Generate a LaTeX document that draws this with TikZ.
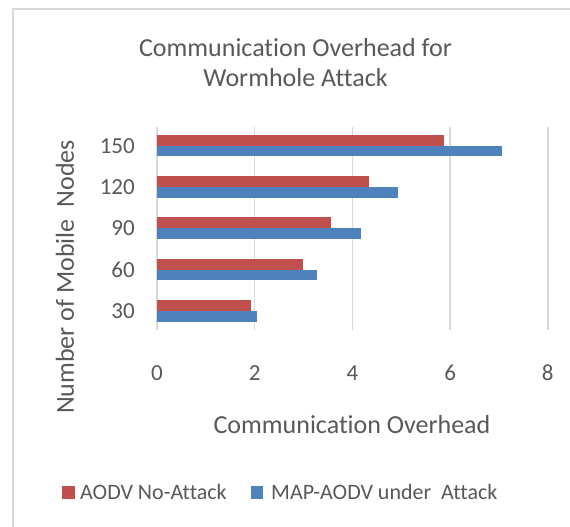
\documentclass[tikz,border=0pt]{standalone}
\usepackage{fontspec}
\setmainfont[Ligatures=NoCommon]{Carlito}
\begin{document}
\begin{tikzpicture}[x=1pt,y=1pt,
  txt/.style={text=textgray,inner sep=0pt},
  grid line/.style={draw=gridgray,line width=1.4pt},
  frame line/.style={draw=gridgray,line width=1.4pt},
  serA/.style={fill=barred},
  serB/.style={fill=barblue},
  ticklab/.style={txt,font=\fontsize{23}{27}\selectfont},
  axtitle/.style={txt,font=\fontsize{26}{31}\selectfont},
  legtext/.style={txt,font=\fontsize{22}{26}\selectfont,anchor=west}]
\definecolor{textgray}{HTML}{595959}
\definecolor{gridgray}{HTML}{D9D9D9}
\definecolor{barred}{HTML}{C0504D}
\definecolor{barblue}{HTML}{4F81BD}
% canvas
\useasboundingbox[fill=white] (0,0) rectangle (570,527);
% chart frame (left and top edges)
\draw[frame line] (13,0) -- (13,518) -- (570,518);
% title
\node[axtitle] (title1) at (295.5,479) {Communication Overhead for};
\node[axtitle] (title2) at (295.5,449) {Wormhole Attack};
% vertical gridlines and value labels
\def\ox{157}
\def\sx{48.85}
\foreach \v in {0,2,4,6,8}{
  \draw[grid line] ({\ox+\v*\sx},400) -- ({\ox+\v*\sx},197);
  \node[ticklab] (xt\v) at ({\ox+\v*\sx},154) {\v};
}
% bars and category labels
\foreach \i/\lab/\r/\b in {0/150/5.88/7.06,1/120/4.33/4.94,2/90/3.56/4.17,3/60/2.99/3.27,4/30/1.93/2.05}{
  \pgfmathsetmacro{\c}{381.3-41.3*\i}
  \fill[serA] (\ox,\c) rectangle ({\ox+\r*\sx},{\c+10.8});
  \fill[serB] (\ox,{\c-10.8}) rectangle ({\ox+\b*\sx},\c);
  \node[ticklab,anchor=east] (yt\lab) at (135,\c) {\lab};
}
% axis titles
\node[axtitle] (xtitle) at (352,102) {Communication Overhead};
\node[axtitle,rotate=90] (ytitle) at (65,250) {Number of Mobile\ \ Nodes};
% legend
\fill[serA] (62,28) rectangle (75,41);
\node[legtext] (legA) at (80,35) {AODV No-Attack};
\fill[serB] (251,28) rectangle (263,41);
\node[legtext] (legB) at (271,35) {MAP-AODV under\ \ Attack};
\end{tikzpicture}
\end{document}
